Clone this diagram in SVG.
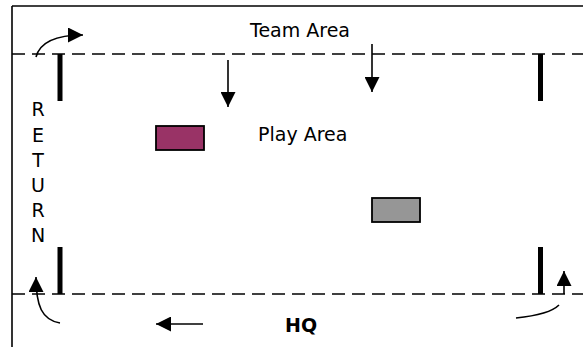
<svg xmlns="http://www.w3.org/2000/svg" width="583" height="347" viewBox="0 0 583 347">
  <defs>
    <marker id="ah" markerUnits="userSpaceOnUse" markerWidth="16" markerHeight="15" refX="15" refY="7.5" orient="auto">
      <path d="M0,0 L15,7.5 L0,15 z" fill="#000"/>
    </marker>
    <style>
      .frame { stroke: #000; stroke-width: 1.6; fill: none; }
      .dash { stroke: #000; stroke-width: 1.6; stroke-dasharray: 13 7; fill: none; }
      .bar { stroke: #000; stroke-width: 5; fill: none; }
      .arrow { stroke: #000; stroke-width: 1.6; fill: none; marker-end: url(#ah); }
      .curve { stroke: #000; stroke-width: 1.6; fill: none; }
      .lbl { font-family: "DejaVu Sans", "Liberation Sans", sans-serif; font-size: 19px; fill: #000; }
      .bold { font-weight: bold; }
      .box { stroke: #000; stroke-width: 1.8; }
    </style>
  </defs>
  <rect x="0" y="0" width="583" height="347" fill="#fff"/>

  <g id="frame">
    <line class="frame" x1="12" y1="6" x2="583" y2="6"/>
    <line class="frame" x1="12" y1="6" x2="12" y2="347"/>
    <line class="dash" x1="12" y1="54" x2="583" y2="54"/>
    <line class="dash" x1="12" y1="294" x2="583" y2="294"/>
  </g>

  <g id="posts">
    <line class="bar" x1="60" y1="54" x2="60" y2="101"/>
    <line class="bar" x1="60" y1="247" x2="60" y2="294"/>
    <line class="bar" x1="540.5" y1="54" x2="540.5" y2="101"/>
    <line class="bar" x1="540.5" y1="247" x2="540.5" y2="294"/>
  </g>

  <g id="team-area">
    <text class="lbl" x="300" y="37" text-anchor="middle">Team Area</text>
  </g>
  <g id="play-area">
    <text class="lbl" x="258" y="141">Play Area</text>
  </g>
  <g id="hq">
    <text class="lbl bold" x="285" y="332">HQ</text>
  </g>
  <g id="return">
    <text class="lbl" x="38" y="116" text-anchor="middle">R</text>
    <text class="lbl" x="38" y="142" text-anchor="middle">E</text>
    <text class="lbl" x="38" y="167" text-anchor="middle">T</text>
    <text class="lbl" x="38" y="192" text-anchor="middle">U</text>
    <text class="lbl" x="38" y="217" text-anchor="middle">R</text>
    <text class="lbl" x="38" y="242" text-anchor="middle">N</text>
  </g>

  <g id="purple-box">
    <rect class="box" x="156" y="126" width="48" height="24" fill="#993366"/>
  </g>
  <g id="grey-box">
    <rect class="box" x="372" y="198" width="48" height="24" fill="#969696"/>
  </g>

  <g id="connectors">
    <path class="arrow" d="M36,57 C40,42 55,35 83,35"/>
    <line class="arrow" x1="228" y1="60" x2="228" y2="107"/>
    <line class="arrow" x1="372" y1="44" x2="372" y2="92"/>
    <line class="arrow" x1="203" y1="324" x2="156" y2="324"/>
    <path class="arrow" d="M60,323 C42,320 36,306 36,277"/>
    <path class="curve" d="M516,318 C535,316 552,312 559,305"/>
    <line class="arrow" x1="564" y1="294" x2="564" y2="271"/>
  </g>
</svg>
